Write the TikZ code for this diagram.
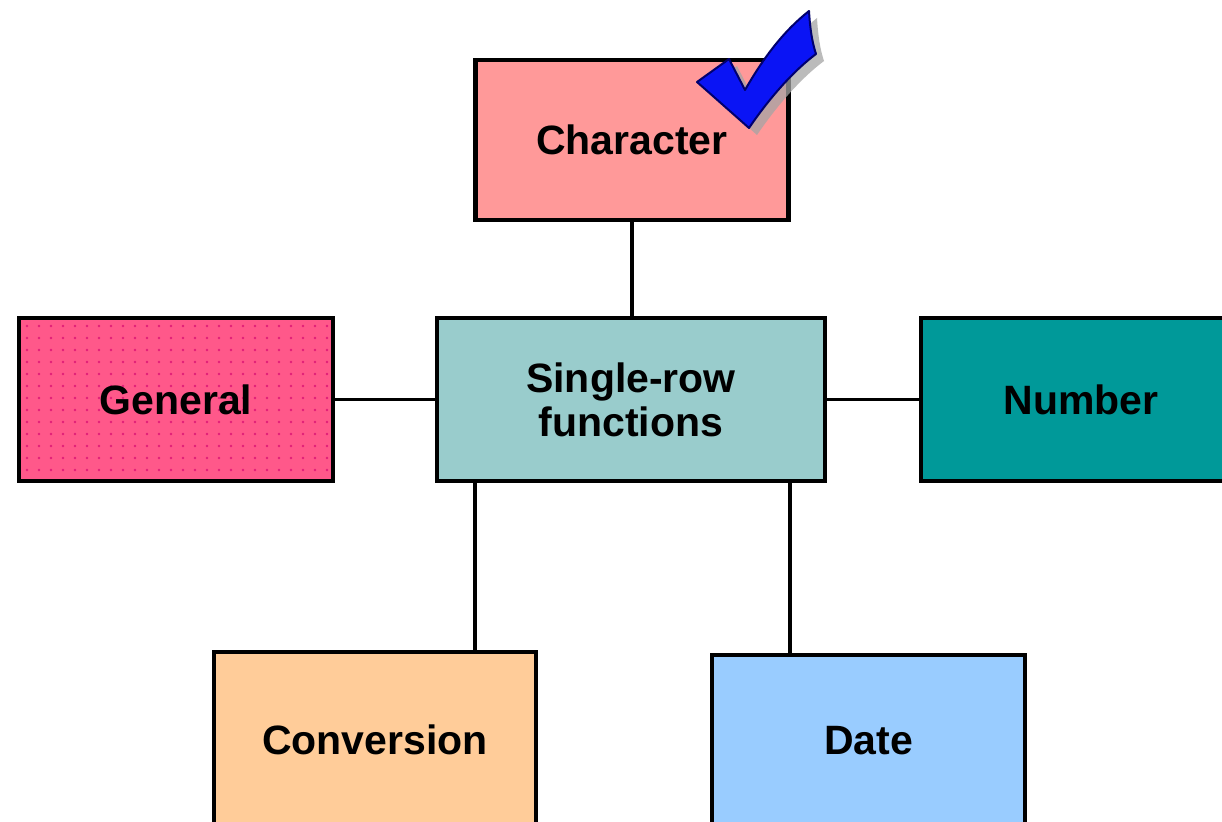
\documentclass[tikz,border=0pt]{standalone}
\usepackage{fontspec}
\setmainfont{Liberation Sans}
\begin{document}
\begin{tikzpicture}[x=1pt,y=-1pt,
  fnbox/.style={draw=black,line width=4.5pt,rectangle,inner sep=0pt,
    font=\fontsize{41}{46}\selectfont\bfseries,align=center},
  boxlabel/.style={font=\fontsize{41}{46}\selectfont\bfseries},
  link/.style={draw=black,line width=3.5pt}]
\definecolor{charfill}{RGB}{255,153,153}
\definecolor{srfill}{RGB}{153,204,204}
\definecolor{genfill}{RGB}{255,88,138}
\definecolor{gendot}{RGB}{225,30,120}
\definecolor{numfill}{RGB}{0,153,153}
\definecolor{convfill}{RGB}{255,204,153}
\definecolor{datefill}{RGB}{153,204,255}
\definecolor{checkblue}{RGB}{10,20,245}
\definecolor{checkedge}{RGB}{0,0,110}
\definecolor{checkshadow}{RGB}{165,165,165}

\fill[white] (0,0) rectangle (1222,821);
\useasboundingbox (0,0) rectangle (1222,821);
\clip (0,0) rectangle (1222,821);

% boxes
\node[fnbox,fill=charfill,minimum width=313,minimum height=160] (char) at (632,140) {Character};
\node[fnbox,fill=srfill,minimum width=388,minimum height=163] (sr) at (631,399.5) {Single-row\\[-2pt]functions};
\node[fnbox,fill=genfill,minimum width=314,minimum height=163] (gen) at (176,399.5) {};
\node[fnbox,fill=numfill,minimum width=320,minimum height=163] (num) at (1081,399.5) {Number};
\node[fnbox,fill=convfill,minimum width=322,minimum height=176] (conv) at (375,740) {Conversion};
\node[fnbox,fill=datefill,minimum width=313,minimum height=172] (date) at (868.5,741) {Date};

% dotted texture of the General box
\begin{scope}
  \clip (21,320) rectangle (331,479);
  \foreach \i in {0,...,26} {
    \foreach \j in {0,...,13} {
      \fill[gendot] (27+12*\i,326+12*\j) circle (1.3);
    }
  }
\end{scope}
\node[boxlabel] (gentext) at (gen.center) {General};

% connecting lines
\draw[link] (char.south) -- (char.south |- sr.north);
\draw[link] (gen.east) -- (sr.west);
\draw[link] (sr.east) -- (num.west);
\draw[link] ([xshift=-156pt]sr.south) -- ([xshift=-156pt]sr.south |- conv.north);
\draw[link] ([xshift=159pt]sr.south) -- ([xshift=159pt]sr.south |- date.north);

% check mark with its shadow
\begin{scope}[shift={(8,7)}]
  \fill[checkshadow,opacity=0.75]
    (697,82) -- (729,59) -- (745,90)
    .. controls (765,55) and (785,30) .. (809,11)
    .. controls (810,28) and (812,42) .. (816,54)
    .. controls (792,72) and (768,100) .. (749,128) -- cycle;
\end{scope}
\draw[checkedge,line width=2pt,fill=checkblue,line join=round]
    (697,82) -- (729,59) -- (745,90)
    .. controls (765,55) and (785,30) .. (809,11)
    .. controls (810,28) and (812,42) .. (816,54)
    .. controls (792,72) and (768,100) .. (749,128) -- cycle;
\end{tikzpicture}
\end{document}
